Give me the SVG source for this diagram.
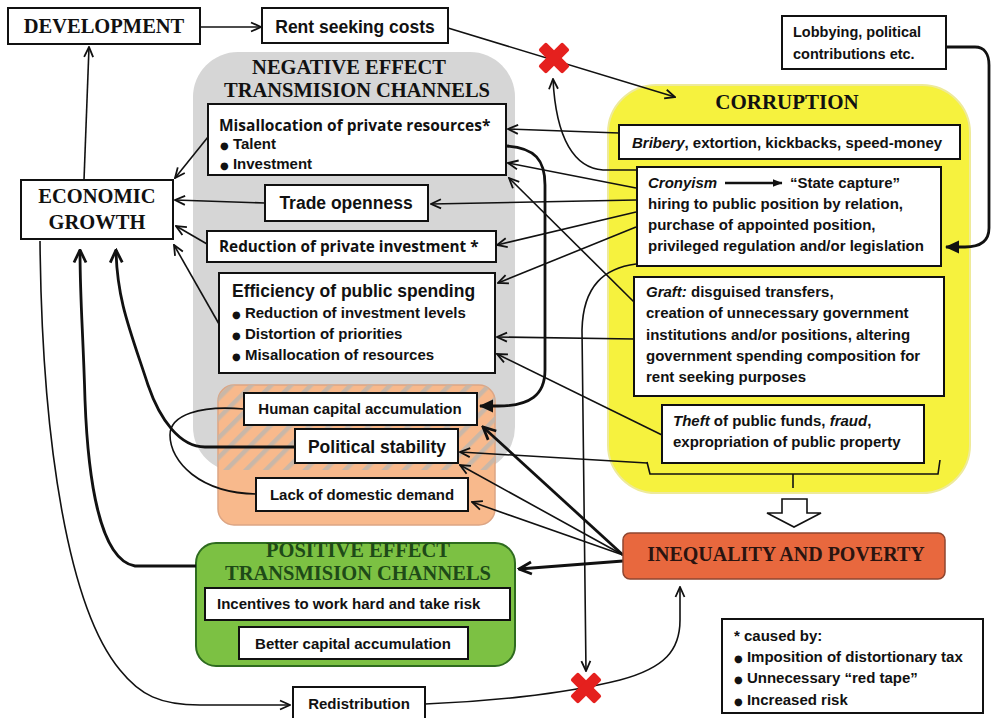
<svg xmlns="http://www.w3.org/2000/svg" width="992" height="718" viewBox="0 0 992 718">
<defs>
<style>
.box{fill:#fff;stroke:#111;stroke-width:2}
.t{font-family:"Liberation Sans",Arial,sans-serif;font-weight:bold;fill:#111}
.s{font-family:"Liberation Serif","Times New Roman",serif;font-weight:bold;fill:#111}
.o{font-family:"Open Sans","Liberation Sans",sans-serif;font-weight:bold;fill:#111}
.c{fill:none;stroke:#111;stroke-width:1.6}
.ck{fill:none;stroke:#111;stroke-width:2.8}
.i{font-style:italic}
.b{font-family:"DejaVu Sans",sans-serif;font-size:10px}
</style>
<marker id="a" viewBox="0 0 12 12" markerWidth="12" markerHeight="12" refX="11" refY="6" orient="auto" markerUnits="userSpaceOnUse"><path d="M1,1.5 L11,6 L1,10.5" fill="none" stroke="#111" stroke-width="1.8"/></marker>
<marker id="ak" viewBox="0 0 16 16" markerWidth="16" markerHeight="16" refX="14.5" refY="8" orient="auto" markerUnits="userSpaceOnUse"><path d="M2,2 L14.5,8 L2,14" fill="none" stroke="#111" stroke-width="2.8"/></marker>
<marker id="f" viewBox="0 0 14 14" markerWidth="14" markerHeight="14" refX="13" refY="7" orient="auto" markerUnits="userSpaceOnUse"><path d="M0,0.5 L14,7 L0,13.5 z" fill="#111"/></marker>
<marker id="fs" viewBox="0 0 10 10" markerWidth="10" markerHeight="10" refX="9.5" refY="5" orient="auto" markerUnits="userSpaceOnUse"><path d="M0,1 L10,5 L0,9 z" fill="#111"/></marker>
<pattern id="hatch" patternUnits="userSpaceOnUse" width="14" height="14" patternTransform="rotate(45)"><rect x="0" y="0" width="4.5" height="14" fill="#bdb7af"/></pattern>
<clipPath id="ovl"><rect x="190" y="380" width="330" height="90"/></clipPath>
</defs>
<rect x="0" y="0" width="992" height="718" fill="#fff"/>

<g id="regions">
<rect id="neg-region" x="193" y="52" width="322" height="420" rx="45" ry="45" fill="#d6d6d6"/>
<rect id="corruption-region" x="608" y="85" width="362" height="408" rx="48" ry="48" fill="#f6f23e" stroke="#eeea9a" stroke-width="2"/>
<g id="orange-region">
<rect x="218" y="385" width="277" height="140" rx="16" ry="16" fill="#f8b98c" stroke="#dca584" stroke-width="1.5"/>
<rect x="218" y="385" width="277" height="140" rx="16" ry="16" fill="url(#hatch)" clip-path="url(#ovl)" opacity="0.8"/>
</g>
<rect id="pos-region" x="196" y="543" width="319" height="123" rx="20" ry="20" fill="#7cc143" stroke="#2e6b1f" stroke-width="2"/>
</g>

<g id="titles">
<text class="s" x="349" y="74" font-size="20.5" text-anchor="middle">NEGATIVE EFFECT</text>
<text class="s" x="357" y="97" font-size="20.5" text-anchor="middle">TRANSMISION CHANNELS</text>
<text class="s" x="787" y="109" font-size="21" text-anchor="middle">CORRUPTION</text>
<text class="s" x="358" y="557" font-size="20.5" text-anchor="middle" style="fill:#1e4a18">POSITIVE EFFECT</text>
<text class="s" x="358" y="580" font-size="20.5" text-anchor="middle" style="fill:#1e4a18">TRANSMISION CHANNELS</text>
</g>

<g id="connectors">
<line class="c" x1="200" y1="27" x2="261" y2="27" marker-end="url(#a)"/>
<line class="c" x1="84" y1="180" x2="89" y2="47" marker-end="url(#a)"/>
<line class="c" x1="448" y1="28" x2="675" y2="97" marker-end="url(#a)"/>
<path class="c" d="M637,170 L603,170 C575,168 556,140 553,79" marker-end="url(#a)"/>
<line class="c" x1="619" y1="133" x2="508" y2="129" marker-end="url(#a)"/>
<line class="c" x1="636" y1="188" x2="508" y2="163" marker-end="url(#a)"/>
<line class="c" x1="636" y1="200" x2="431" y2="204" marker-end="url(#a)"/>
<line class="c" x1="636" y1="212" x2="497" y2="245" marker-end="url(#a)"/>
<line class="c" x1="636" y1="227" x2="498" y2="283" marker-end="url(#a)"/>
<line class="c" x1="634" y1="302" x2="509" y2="178" marker-end="url(#a)"/>
<line class="c" x1="634" y1="339" x2="497" y2="337" marker-end="url(#a)"/>
<line class="c" x1="662" y1="435" x2="497" y2="354" marker-end="url(#a)"/>
<path class="ck" d="M507,146 C535,148 545,160 545,185 L545,370 C545,395 530,406 498,406 L480,406" marker-end="url(#f)"/>
<path class="c" d="M636,264 C605,268 583,285 582,330 L586,671" marker-end="url(#a)"/>
<path class="c" d="M425,704 C480,702 560,695 620,680 C665,668 680,650 680,620 L680,587" marker-end="url(#a)"/>
<path class="c" d="M40,241 C42,450 70,610 120,670 C140,695 160,705 200,705 L290,705" marker-end="url(#a)"/>
<path class="ck" d="M196,566 L135,566 C100,560 88,480 85,400 C83,330 80,300 80,250" marker-end="url(#ak)"/>
<path class="ck" d="M295,447 L205,447 C180,447 160,420 148,385 C130,330 117,300 116,250" marker-end="url(#ak)"/>
<path class="c" d="M244,409 C200,405 170,415 170,435 C170,462 200,493 256,494"/>
<line class="c" x1="208" y1="137" x2="175" y2="178" marker-end="url(#a)"/>
<line class="c" x1="265" y1="203" x2="175" y2="200" marker-end="url(#a)"/>
<line class="c" x1="207" y1="244" x2="176" y2="226" marker-end="url(#a)"/>
<line class="c" x1="219" y1="324" x2="174" y2="245" marker-end="url(#a)"/>
<path class="ck" d="M946,47 L975,47 C985,47 989,55 989,65 L989,228 C989,242 980,247 965,247 L946,247" stroke-width="3.2" marker-end="url(#f)"/>
<path class="c" d="M647,463 L460,452" marker-end="url(#a)"/>
<path class="c" d="M647,462 L650,474 L938,474 L940,460"/>
<line class="c" x1="793" y1="474" x2="793" y2="488"/>
<line class="ck" x1="623" y1="555" x2="483" y2="427" stroke-width="2.6" marker-end="url(#ak)"/>
<line class="c" x1="623" y1="555" x2="460" y2="465" marker-end="url(#a)"/>
<line class="c" x1="623" y1="555" x2="472" y2="502" marker-end="url(#a)"/>
<line class="ck" x1="623" y1="561" x2="519" y2="569" stroke-width="2.6" marker-end="url(#ak)"/>
<path d="M782,499 L807,499 L807,513 L821,513 L794,527 L767,513 L782,513 Z" fill="#fff" stroke="#111" stroke-width="1.6"/>
</g>

<g id="crosses" fill="#e5201e">
<g transform="translate(554,58) rotate(45)"><rect x="-17" y="-5.5" width="34" height="11" rx="2"/><rect x="-5.5" y="-17" width="11" height="34" rx="2"/></g>
<g transform="translate(586,688) rotate(45)"><rect x="-17" y="-5.5" width="34" height="11" rx="2"/><rect x="-5.5" y="-17" width="11" height="34" rx="2"/></g>
</g>

<g id="development"><rect class="box" x="8" y="8" width="192" height="36"/><text class="s" x="104" y="33" font-size="20.5" text-anchor="middle">DEVELOPMENT</text></g>
<g id="rent-seeking"><rect class="box" x="262" y="8" width="186" height="35"/><text class="t" x="355" y="33" font-size="17.5" text-anchor="middle">Rent seeking costs</text></g>
<g id="lobbying"><rect class="box" x="782" y="16" width="164" height="53"/><text class="t" x="793" y="37" font-size="14.5">Lobbying, political</text><text class="t" x="793" y="59" font-size="14.5">contributions etc.</text></g>
<g id="economic-growth"><rect class="box" x="21" y="180" width="152" height="59"/><text class="s" x="97" y="203" font-size="20.5" text-anchor="middle">ECONOMIC</text><text class="s" x="97" y="229" font-size="20.5" text-anchor="middle">GROWTH</text></g>

<g id="misallocation"><rect class="box" x="208" y="104" width="298" height="71"/>
<text class="o" x="219" y="131" font-size="15.5">Misallocation of private resources*</text>
<text class="t" x="220" y="149" font-size="15"><tspan class="b">●</tspan> Talent</text>
<text class="t" x="220" y="169" font-size="15"><tspan class="b">●</tspan> Investment</text></g>
<g id="trade-openness"><rect class="box" x="265" y="185" width="163" height="36"/><text class="t" x="346" y="209" font-size="17.5" text-anchor="middle">Trade openness</text></g>
<g id="reduction-private-investment"><rect class="box" x="207" y="231" width="289" height="31"/><text class="o" x="219" y="252" font-size="15.3">Reduction of private investment *</text></g>
<g id="efficiency"><rect class="box" x="219" y="273" width="276" height="100"/>
<text class="t" x="232" y="297" font-size="17.5">Efficiency of public spending</text>
<text class="t" x="232" y="318" font-size="15"><tspan class="b">●</tspan> Reduction of investment levels</text>
<text class="t" x="232" y="339" font-size="15"><tspan class="b">●</tspan> Distortion of priorities</text>
<text class="t" x="232" y="360" font-size="15"><tspan class="b">●</tspan> Misallocation of resources</text></g>
<g id="human-capital"><rect class="box" x="244" y="393" width="233" height="32"/><text class="t" x="360" y="414" font-size="15" text-anchor="middle">Human capital accumulation</text></g>
<g id="political-stability"><rect class="box" x="295" y="429" width="163" height="34"/><text class="t" x="377" y="453" font-size="17.5" text-anchor="middle">Political stability</text></g>
<g id="domestic-demand"><rect class="box" x="256" y="478" width="212" height="33"/><text class="t" x="362" y="500" font-size="15" text-anchor="middle">Lack of domestic demand</text></g>
<g id="incentives"><rect class="box" x="205" y="588" width="305" height="32"/><text class="t" x="217" y="609" font-size="15">Incentives to work hard and take risk</text></g>
<g id="better-capital"><rect class="box" x="239" y="627" width="229" height="32"/><text class="t" x="353" y="649" font-size="15" text-anchor="middle">Better capital accumulation</text></g>
<g id="redistribution"><rect class="box" x="293" y="687" width="132" height="34"/><text class="t" x="359" y="709" font-size="15" text-anchor="middle">Redistribution</text></g>

<g id="bribery"><rect class="box" x="619" y="125" width="341" height="34"/><text class="t" x="632" y="148" font-size="15"><tspan class="i">Bribery</tspan>, extortion, kickbacks, speed-money</text></g>
<g id="cronyism"><rect class="box" x="637" y="167" width="304" height="99"/>
<text class="t" x="648" y="188" font-size="15"><tspan class="i">Cronyism</tspan></text>
<line x1="725" y1="183" x2="782" y2="183" stroke="#111" stroke-width="2.6" marker-end="url(#fs)"/>
<text class="t" x="790" y="188" font-size="15">“State capture”</text>
<text class="t" x="648" y="209" font-size="15">hiring to public position by relation,</text>
<text class="t" x="648" y="230" font-size="15">purchase of appointed position,</text>
<text class="t" x="648" y="251" font-size="15">privileged regulation and/or legislation</text></g>
<g id="graft"><rect class="box" x="634" y="277" width="310" height="119"/>
<text class="t" x="646" y="297" font-size="15"><tspan class="i">Graft:</tspan> disguised transfers,</text>
<text class="t" x="646" y="318" font-size="15">creation of unnecessary government</text>
<text class="t" x="646" y="340" font-size="15">institutions and/or positions, altering</text>
<text class="t" x="646" y="361" font-size="15">government spending composition for</text>
<text class="t" x="646" y="382" font-size="15">rent seeking purposes</text></g>
<g id="theft"><rect class="box" x="662" y="405" width="262" height="58"/>
<text class="t" x="673" y="426" font-size="15"><tspan class="i">Theft</tspan> of public funds, <tspan class="i">fraud</tspan>,</text>
<text class="t" x="673" y="447" font-size="15">expropriation of public property</text></g>
<g id="inequality"><rect x="623" y="533" width="322" height="46" rx="7" ry="7" fill="#e8683e" stroke="#8f4630" stroke-width="1.5"/><text class="s" x="786" y="561" font-size="20" text-anchor="middle" style="fill:#2a1410">INEQUALITY AND POVERTY</text></g>
<g id="footnote"><rect class="box" x="722" y="619" width="261" height="94"/>
<text class="t" x="734" y="641" font-size="15">* caused by:</text>
<text class="t" x="734" y="662" font-size="15"><tspan class="b">●</tspan> Imposition of distortionary tax</text>
<text class="t" x="734" y="683" font-size="15"><tspan class="b">●</tspan> Unnecessary “red tape”</text>
<text class="t" x="734" y="705" font-size="15"><tspan class="b">●</tspan> Increased risk</text></g>
</svg>
